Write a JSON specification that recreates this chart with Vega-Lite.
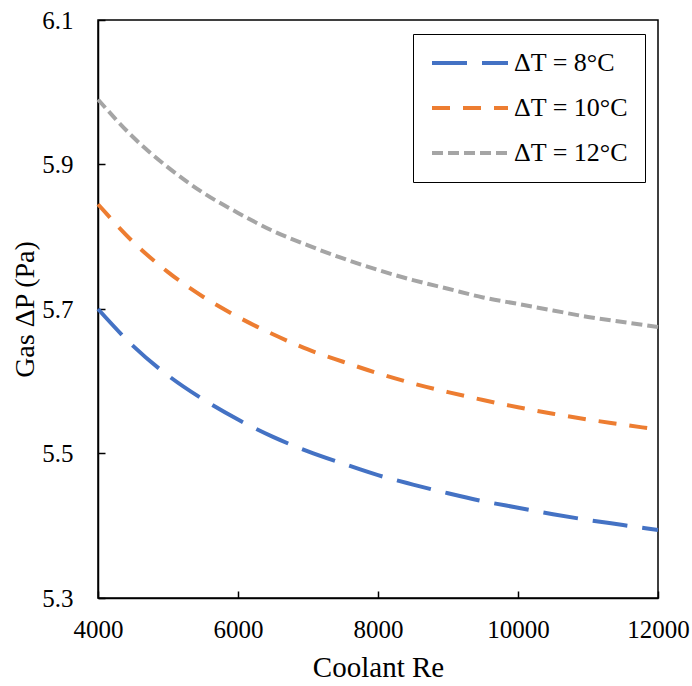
{
  "$schema": "https://vega.github.io/schema/vega-lite/v6.json",
  "width": 560,
  "height": 578,
  "autosize": {"type": "none"},
  "padding": {"left": 98, "top": 20, "right": 34, "bottom": 88},
  "config": {
    "view": {"stroke": "black", "strokeWidth": 1.5},
    "font": "Liberation Serif",
    "axis": {
      "grid": false,
      "domainColor": "black",
      "domainWidth": 1.5,
      "tickColor": "black",
      "tickWidth": 1.5,
      "tickSize": -7,
      "labelFlush": false,
      "labelFont": "Liberation Serif",
      "labelFontSize": 25,
      "labelColor": "black",
      "titleFont": "Liberation Serif",
      "titleFontSize": 29,
      "titleFontWeight": "normal",
      "titleColor": "black"
    }
  },
  "data": {
    "values": [
      {"Re": 4000, "dP": 5.700, "series": "ΔT = 8°C"},
      {"Re": 4500, "dP": 5.649, "series": "ΔT = 8°C"},
      {"Re": 5000, "dP": 5.608, "series": "ΔT = 8°C"},
      {"Re": 5500, "dP": 5.575, "series": "ΔT = 8°C"},
      {"Re": 6000, "dP": 5.547, "series": "ΔT = 8°C"},
      {"Re": 6500, "dP": 5.523, "series": "ΔT = 8°C"},
      {"Re": 7000, "dP": 5.503, "series": "ΔT = 8°C"},
      {"Re": 7500, "dP": 5.486, "series": "ΔT = 8°C"},
      {"Re": 8000, "dP": 5.470, "series": "ΔT = 8°C"},
      {"Re": 8500, "dP": 5.457, "series": "ΔT = 8°C"},
      {"Re": 9000, "dP": 5.445, "series": "ΔT = 8°C"},
      {"Re": 9500, "dP": 5.434, "series": "ΔT = 8°C"},
      {"Re": 10000, "dP": 5.425, "series": "ΔT = 8°C"},
      {"Re": 10500, "dP": 5.416, "series": "ΔT = 8°C"},
      {"Re": 11000, "dP": 5.408, "series": "ΔT = 8°C"},
      {"Re": 11500, "dP": 5.401, "series": "ΔT = 8°C"},
      {"Re": 12000, "dP": 5.394, "series": "ΔT = 8°C"},
      {"Re": 4000, "dP": 5.845, "series": "ΔT = 10°C"},
      {"Re": 4500, "dP": 5.793, "series": "ΔT = 10°C"},
      {"Re": 5000, "dP": 5.751, "series": "ΔT = 10°C"},
      {"Re": 5500, "dP": 5.717, "series": "ΔT = 10°C"},
      {"Re": 6000, "dP": 5.689, "series": "ΔT = 10°C"},
      {"Re": 6500, "dP": 5.665, "series": "ΔT = 10°C"},
      {"Re": 7000, "dP": 5.644, "series": "ΔT = 10°C"},
      {"Re": 7500, "dP": 5.627, "series": "ΔT = 10°C"},
      {"Re": 8000, "dP": 5.611, "series": "ΔT = 10°C"},
      {"Re": 8500, "dP": 5.597, "series": "ΔT = 10°C"},
      {"Re": 9000, "dP": 5.585, "series": "ΔT = 10°C"},
      {"Re": 9500, "dP": 5.574, "series": "ΔT = 10°C"},
      {"Re": 10000, "dP": 5.564, "series": "ΔT = 10°C"},
      {"Re": 10500, "dP": 5.555, "series": "ΔT = 10°C"},
      {"Re": 11000, "dP": 5.547, "series": "ΔT = 10°C"},
      {"Re": 11500, "dP": 5.540, "series": "ΔT = 10°C"},
      {"Re": 12000, "dP": 5.533, "series": "ΔT = 10°C"},
      {"Re": 4000, "dP": 5.990, "series": "ΔT = 12°C"},
      {"Re": 4500, "dP": 5.938, "series": "ΔT = 12°C"},
      {"Re": 5000, "dP": 5.896, "series": "ΔT = 12°C"},
      {"Re": 5500, "dP": 5.861, "series": "ΔT = 12°C"},
      {"Re": 6000, "dP": 5.833, "series": "ΔT = 12°C"},
      {"Re": 6500, "dP": 5.808, "series": "ΔT = 12°C"},
      {"Re": 7000, "dP": 5.788, "series": "ΔT = 12°C"},
      {"Re": 7500, "dP": 5.770, "series": "ΔT = 12°C"},
      {"Re": 8000, "dP": 5.754, "series": "ΔT = 12°C"},
      {"Re": 8500, "dP": 5.740, "series": "ΔT = 12°C"},
      {"Re": 9000, "dP": 5.728, "series": "ΔT = 12°C"},
      {"Re": 9500, "dP": 5.716, "series": "ΔT = 12°C"},
      {"Re": 10000, "dP": 5.707, "series": "ΔT = 12°C"},
      {"Re": 10500, "dP": 5.698, "series": "ΔT = 12°C"},
      {"Re": 11000, "dP": 5.689, "series": "ΔT = 12°C"},
      {"Re": 11500, "dP": 5.682, "series": "ΔT = 12°C"},
      {"Re": 12000, "dP": 5.675, "series": "ΔT = 12°C"}
    ]
  },
  "mark": {"type": "line", "strokeWidth": 4, "strokeCap": "butt", "interpolate": "monotone"},
  "encoding": {
    "x": {
      "field": "Re", "type": "quantitative",
      "scale": {"domain": [4000, 12000], "nice": false},
      "axis": {"values": [4000, 6000, 8000, 10000, 12000], "format": "d", "title": "Coolant Re", "labelPadding": 26, "titlePadding": 11}
    },
    "y": {
      "field": "dP", "type": "quantitative",
      "scale": {"domain": [5.3, 6.1], "nice": false, "zero": false},
      "axis": {"values": [5.3, 5.5, 5.7, 5.9, 6.1], "format": ".1f", "title": "Gas ΔP (Pa)", "titleFontSize": 28, "labelPadding": 32, "titlePadding": 2}
    },
    "color": {
      "field": "series", "type": "nominal",
      "scale": {"domain": ["ΔT = 8°C", "ΔT = 10°C", "ΔT = 12°C"], "range": ["#4472C4", "#ED7D31", "#A5A5A5"]},
      "legend": {
        "title": null,
        "orient": "none",
        "legendX": 315,
        "legendY": 14,
        "fillColor": "white",
        "strokeColor": "black",
        "padding": 16,
        "symbolType": "M-4,0H4",
        "symbolSize": 361,
        "symbolStrokeWidth": 4,
        "symbolOffset": 28,
        "labelFontSize": 26,
        "labelFont": "Liberation Serif",
        "labelColor": "black",
        "labelOffset": 31,
        "rowPadding": 19
      }
    },
    "strokeDash": {
      "field": "series", "type": "nominal",
      "scale": {"domain": ["ΔT = 8°C", "ΔT = 10°C", "ΔT = 12°C"], "range": [[35, 15], [18, 13], [11, 5]]},
      "legend": null
    }
  }
}
